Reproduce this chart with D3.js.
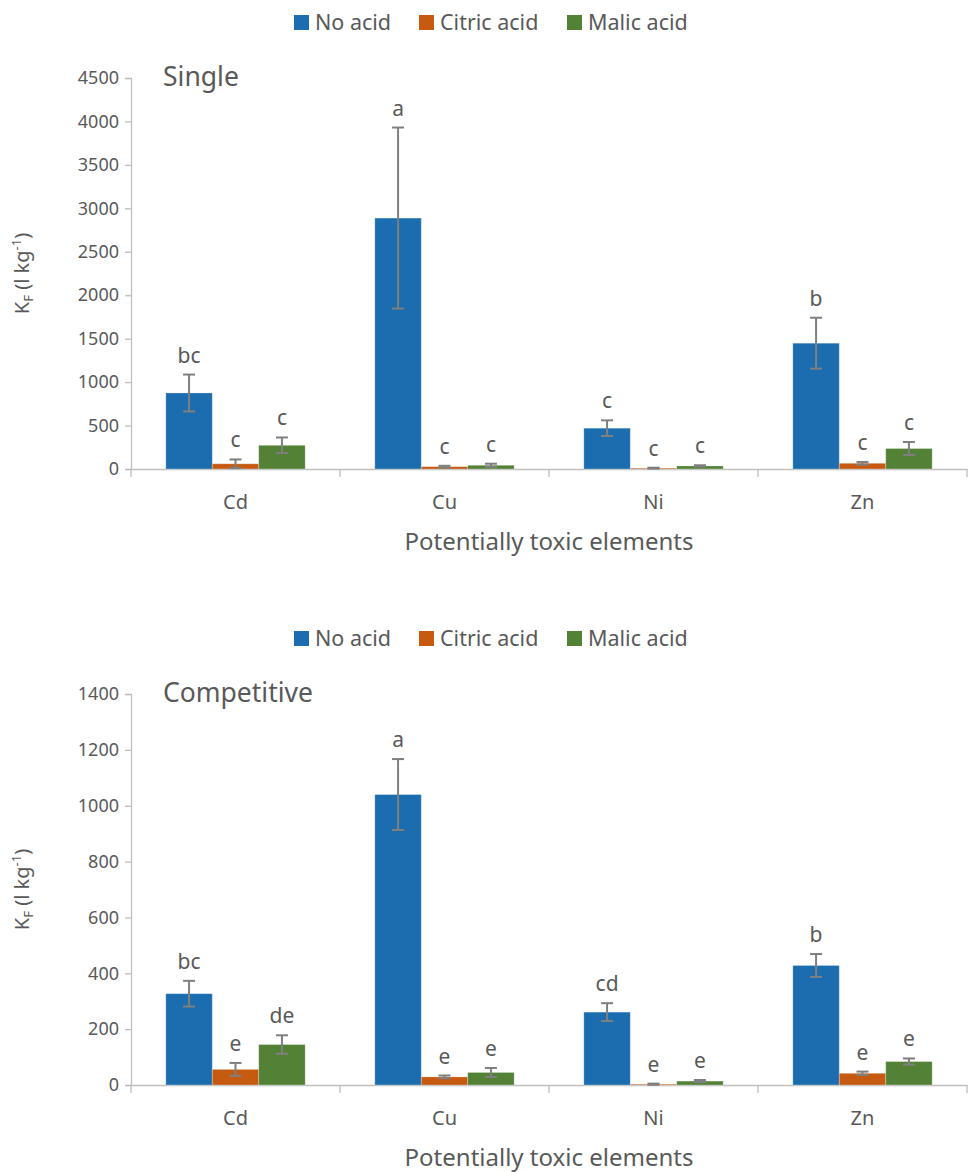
<!DOCTYPE html>
<html>
<head>
  <meta charset="UTF-8">
  <title>KF bar charts</title>
  <script src="https://d3js.org/d3.v7.min.js"></script>
  <style>
    body { margin: 0; background: #fff; font-family: "Noto Sans", sans-serif; }
    text { fill: #595959; }
    .axis path, .axis line { stroke: #bfbfbf; stroke-width: 1.3; }
    .axis text { fill: #595959; }
  </style>
</head>
<body>
  <div id="chart"></div>
  <script>
    const elements = ["Cd", "Cu", "Ni", "Zn"];
    const seriesNames = ["No acid", "Citric acid", "Malic acid"];

    // Single sorption
    const singleNoAcid = [875, 2888, 470, 1448];
    const singleCitric = [60, 27, 10, 66];
    const singleMalic = [273, 43, 35, 236];
    const singleNoAcidErr = [212, 1042, 90, 293];
    const singleCitricErr = [50, 10, 5, 15];
    const singleMalicErr = [90, 18, 8, 75];
    const singleLetters = [["bc", "c", "c"], ["a", "c", "c"], ["c", "c", "c"], ["b", "c", "c"]];
    const singleTicks = [0, 500, 1000, 1500, 2000, 2500, 3000, 3500, 4000, 4500];

    // Competitive sorption
    const compNoAcid = [327, 1040, 261, 428];
    const compCitric = [56, 29, 3, 42];
    const compMalic = [145, 45, 14, 84];
    const compNoAcidErr = [46, 127, 32, 41];
    const compCitricErr = [23, 5, 2, 6];
    const compMalicErr = [33, 16, 4, 11];
    const compLetters = [["bc", "e", "de"], ["a", "e", "e"], ["cd", "e", "e"], ["b", "e", "e"]];
    const compTicks = [0, 200, 400, 600, 800, 1000, 1200, 1400];

    const colors = ["#1b6db0", "#c65a11", "#538135"];

    const W = 968, H = 1172;
    const svg = d3.select("#chart").append("svg").attr("width", W).attr("height", H);

    function drawPanel(top, title, values, errs, letters, ticks) {
      const g = svg.append("g").attr("transform", `translate(0, ${top})`);
      const x0 = 131, x1 = 967, yTop = 78, yBot = 469;

      const x = d3.scaleBand().domain(elements).range([x0, x1]).paddingInner(0).paddingOuter(0);
      const barW = x.bandwidth() / 4.5;
      const xs = d3.scaleBand().domain(seriesNames).range([0, barW * 3]);
      const y = d3.scaleLinear().domain([0, ticks[ticks.length - 1]]).range([yBot, yTop]);

      // legend
      const legX = [294, 419, 567];
      seriesNames.forEach((s, i) => {
        g.append("rect").attr("x", legX[i]).attr("y", 15).attr("width", 15).attr("height", 15).attr("fill", colors[i]);
        g.append("text").attr("x", legX[i] + 21).attr("y", 30).attr("font-size", 21.5).text(s);
      });

      // y axis
      g.append("g").attr("class", "axis")
        .attr("transform", `translate(${x0},0)`)
        .call(d3.axisLeft(y).tickValues(ticks).tickFormat(d3.format("d")).tickSizeOuter(0).tickSize(6).tickPadding(6))
        .selectAll("text").attr("font-size", 18).attr("font-family", "Noto Sans");

      // x axis
      const xa = g.append("g").attr("class", "axis")
        .attr("transform", `translate(0,${yBot})`)
        .call(d3.axisBottom(x).tickSize(0).tickPadding(26).tickSizeOuter(0));
      xa.selectAll("text").attr("font-size", 20).attr("font-family", "Noto Sans");
      xa.selectAll(".sep").data(elements.concat(["end"])).enter().append("line")
        .attr("class", "sep")
        .attr("x1", (d, i) => i < elements.length ? x(d) : x1)
        .attr("x2", (d, i) => i < elements.length ? x(d) : x1)
        .attr("y1", 0).attr("y2", 8);

      // bars
      elements.forEach((el, i) => {
        const gx = x(el) + (x.bandwidth() - barW * 3) / 2;
        seriesNames.forEach((s, j) => {
          const v = values[j][i], e = errs[j][i];
          const bx = gx + xs(s);
          g.append("rect")
            .attr("x", bx).attr("y", y(v))
            .attr("width", barW).attr("height", y(0) - y(v))
            .attr("fill", colors[j])
            .attr("stroke", "#ffffff").attr("stroke-opacity", 0.35).attr("stroke-width", 0.8);
          const cx = bx + barW / 2;
          const eg = g.append("g").attr("stroke", "#7f7f7f").attr("stroke-width", 2);
          eg.append("line").attr("x1", cx).attr("x2", cx).attr("y1", y(v + e)).attr("y2", y(Math.max(v - e, 0)));
          eg.append("line").attr("x1", cx - 6).attr("x2", cx + 6).attr("y1", y(v + e)).attr("y2", y(v + e));
          eg.append("line").attr("x1", cx - 6).attr("x2", cx + 6).attr("y1", y(Math.max(v - e, 0))).attr("y2", y(Math.max(v - e, 0)));
          g.append("text")
            .attr("x", cx).attr("y", y(v + e) - 12)
            .attr("text-anchor", "middle").attr("font-size", 21)
            .text(letters[i][j]);
        });
      });

      // panel title
      g.append("text").attr("x", 163).attr("y", 86).attr("font-size", 26.5).text(title);

      // axis titles
      g.append("text").attr("x", (x0 + x1) / 2).attr("y", 550)
        .attr("text-anchor", "middle").attr("font-size", 24).text("Potentially toxic elements");

      const yl = g.append("text")
        .attr("transform", `translate(29, ${(yTop + yBot) / 2}) rotate(-90)`)
        .attr("text-anchor", "middle").attr("font-size", 20);
      yl.append("tspan").text("K");
      yl.append("tspan").attr("font-size", 13).attr("dy", 4).text("F");
      yl.append("tspan").attr("dy", -4).text(" (l kg");
      yl.append("tspan").attr("font-size", 13).attr("dy", -8).text("-1");
      yl.append("tspan").attr("dy", 8).text(")");
    }

    drawPanel(0, "Single",
      [singleNoAcid, singleCitric, singleMalic],
      [singleNoAcidErr, singleCitricErr, singleMalicErr],
      singleLetters, singleTicks);

    drawPanel(616, "Competitive",
      [compNoAcid, compCitric, compMalic],
      [compNoAcidErr, compCitricErr, compMalicErr],
      compLetters, compTicks);
  </script>
</body>
</html>
